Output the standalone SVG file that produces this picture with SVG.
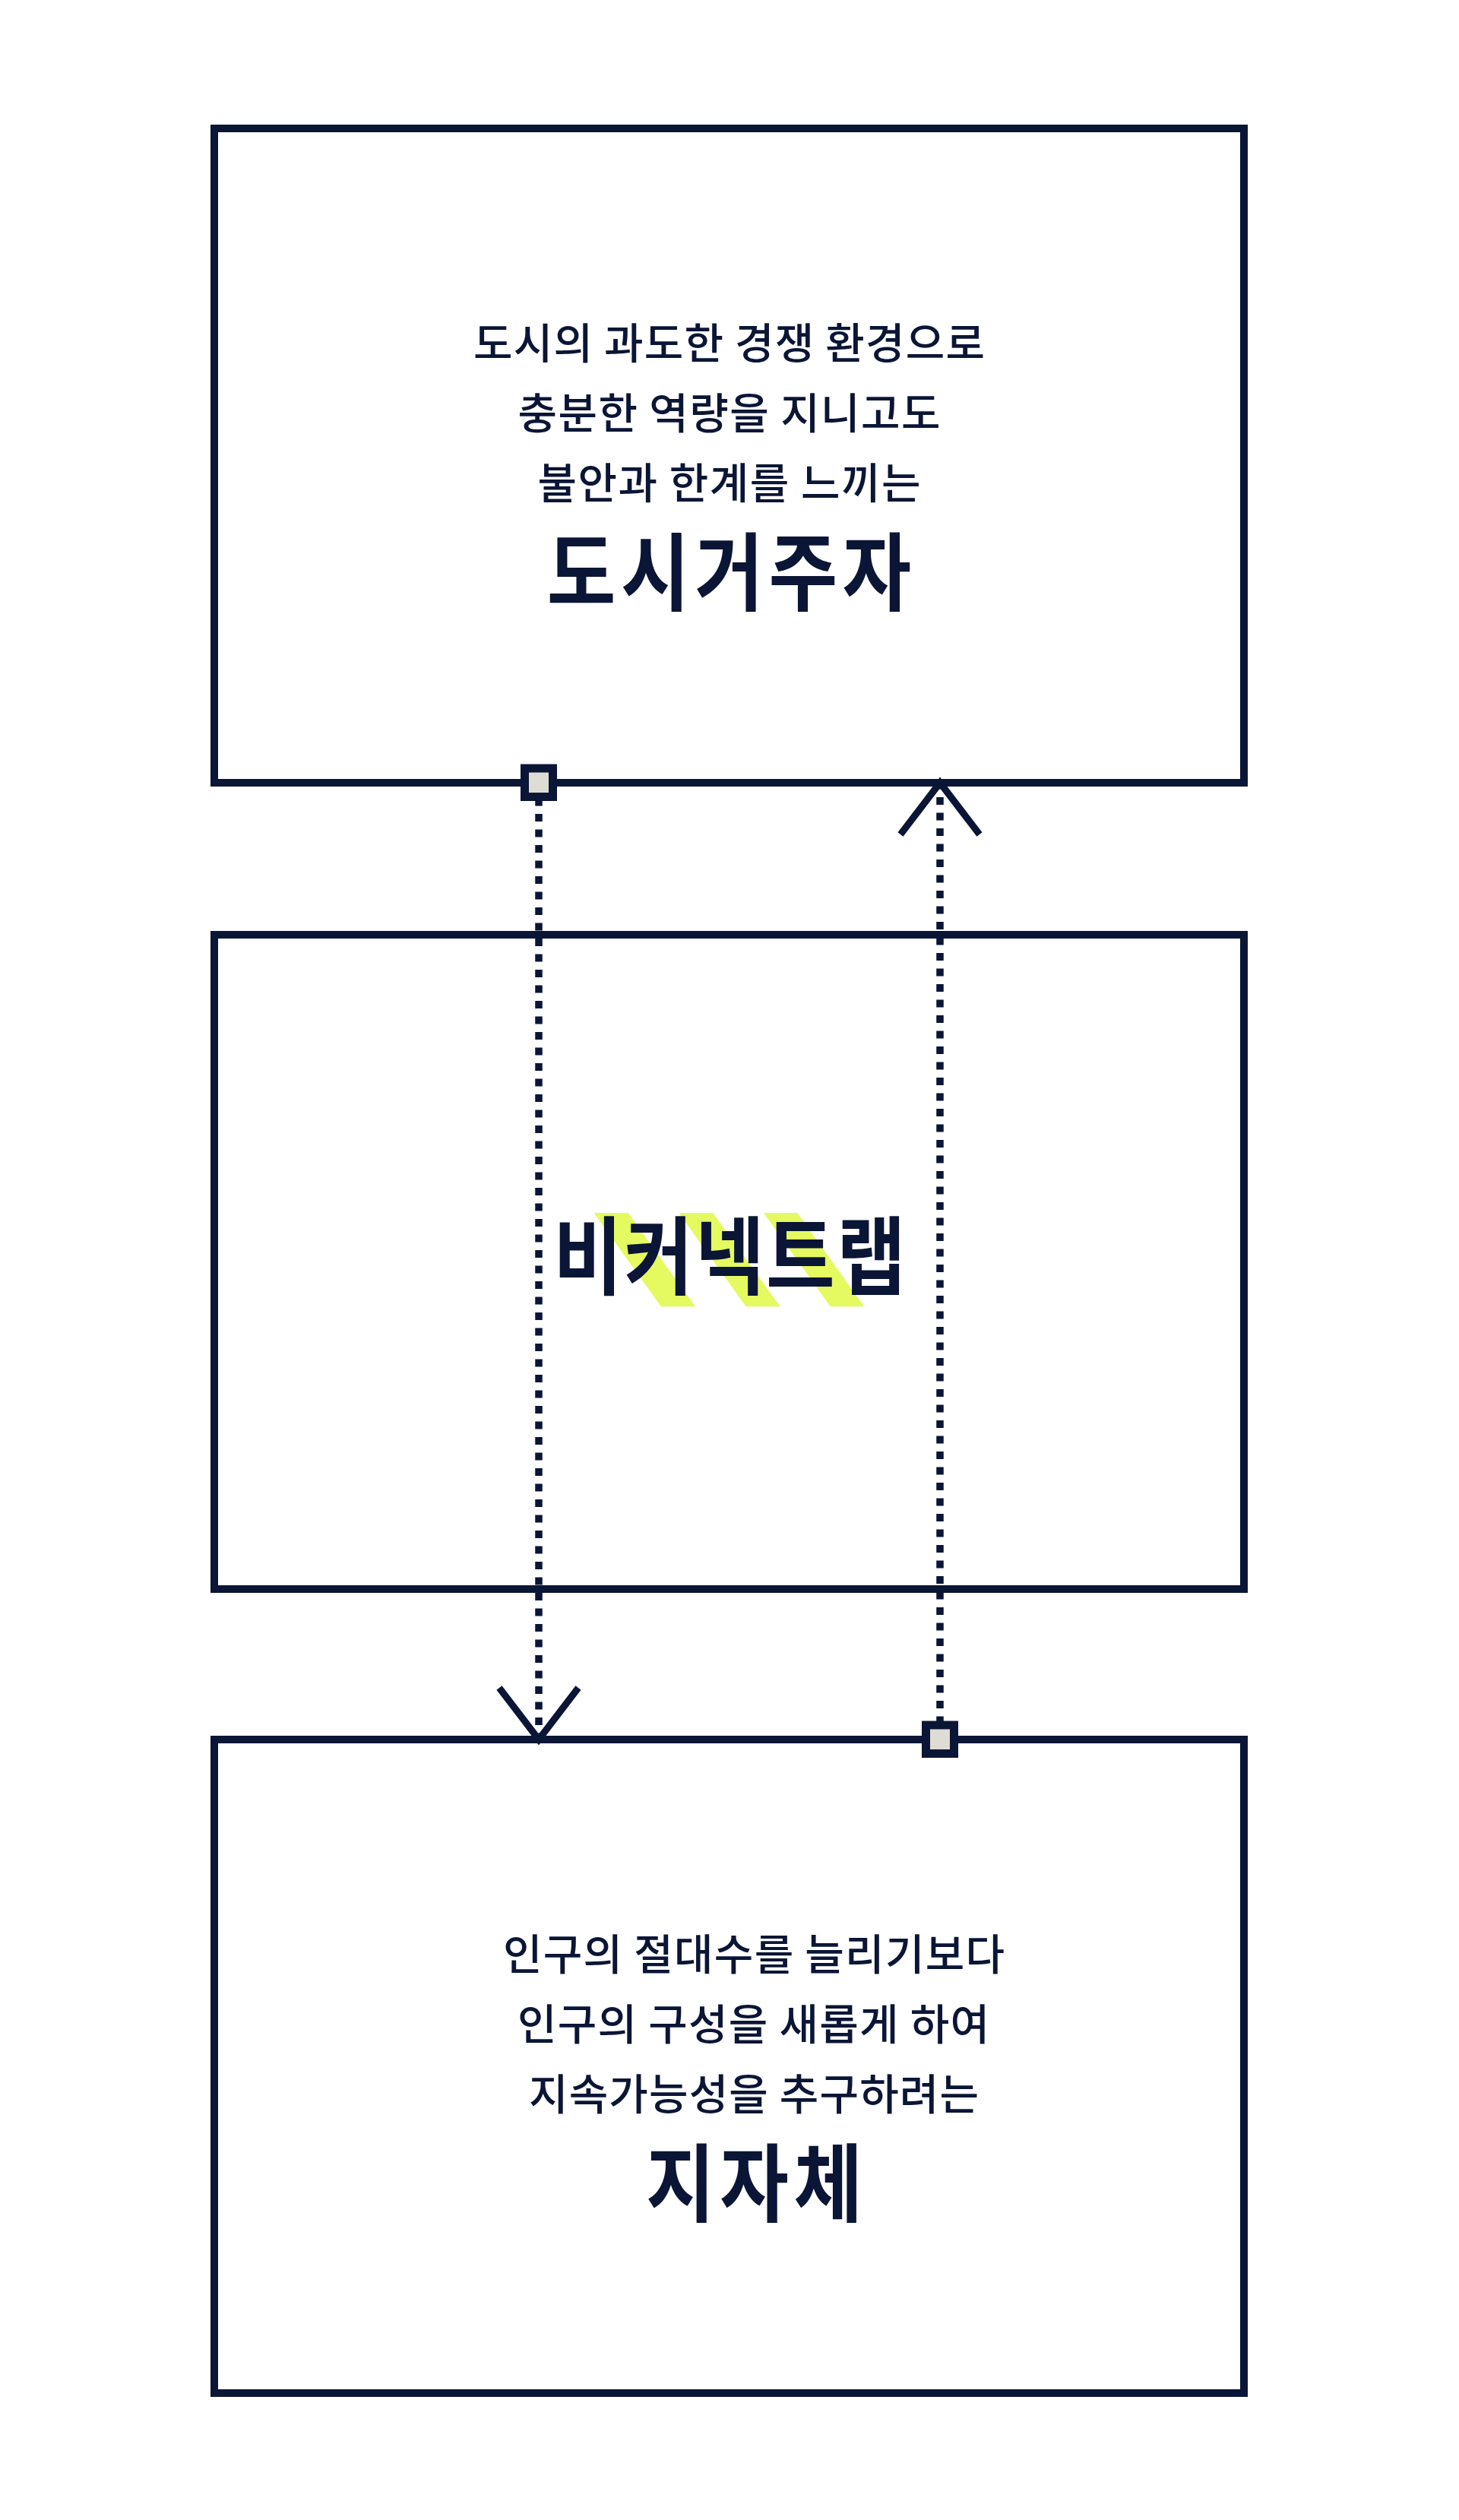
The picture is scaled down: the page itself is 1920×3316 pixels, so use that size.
<svg xmlns="http://www.w3.org/2000/svg" width="1920" height="3316" viewBox="0 0 1920 3316">
<style>
.box{fill:#FFFFFF;stroke:#0B1535;stroke-width:10}
.t{font-family:'Noto Sans CJK KR','Noto Sans',sans-serif;fill:#0B1535;text-anchor:middle}
.sub{font-size:56px;font-weight:500}
.ttl{font-size:112px;font-weight:700}
.stripe{fill:#E4FA60}
.conn{fill:none;stroke:#0B1535;stroke-width:9.5;stroke-dasharray:10 10.5}
</style>
<defs>
<marker id="arrow" markerUnits="userSpaceOnUse" viewBox="-80 -60 100 120" markerWidth="100" markerHeight="120" refX="0" refY="0" orient="auto" overflow="visible">
<path d="M-68,-52 L0,0 L-68,52" fill="none" stroke="#0B1535" stroke-width="9"/>
</marker>
<marker id="sq" markerUnits="userSpaceOnUse" viewBox="-30 -30 60 60" markerWidth="60" markerHeight="60" refX="0" refY="0" orient="0" overflow="visible">
<rect x="-18.5" y="-19" width="37" height="37.5" fill="#DEDDD4" stroke="#0B1535" stroke-width="11"/>
</marker>
</defs>
<rect width="1920" height="3316" fill="#FFFFFF"/>
<g id="node-urban-resident">
<rect class="box" x="282" y="169" width="1355" height="861"/>
<text class="t sub" x="959.5" y="472" textLength="673" lengthAdjust="spacing">도시의 과도한 경쟁 환경으로</text>
<text class="t sub" x="959.5" y="564" textLength="556" lengthAdjust="spacing">충분한 역량을 지니고도</text>
<text class="t sub" x="959.5" y="656" textLength="504" lengthAdjust="spacing">불안과 한계를 느끼는</text>
<text class="t ttl" transform="translate(959.5,795) scale(0.88,1)" x="0" y="0" textLength="545" lengthAdjust="spacing">도시거주자</text>
</g>
<g id="node-beconnectlab">
<rect class="box" x="282" y="1230" width="1355" height="861"/>
<polygon class="stripe" points="781.7,1596 826.7,1596 915,1719.3 870,1719.3"/>
<polygon class="stripe" points="893.3,1596 938.3,1596 1026.7,1719.3 981.7,1719.3"/>
<polygon class="stripe" points="1005,1596 1049.3,1596 1137.3,1719.3 1092.7,1719.3"/>
<text class="t ttl" transform="translate(960,1695) scale(0.88,1)" x="0" y="0" textLength="527" lengthAdjust="spacing">비커넥트랩</text>
</g>
<g id="node-local-government">
<rect class="box" x="282" y="2289" width="1355" height="860"/>
<text class="t sub" x="992" y="2592" textLength="660" lengthAdjust="spacing">인구의 절대수를 늘리기보다</text>
<text class="t sub" x="991.5" y="2684" textLength="621" lengthAdjust="spacing">인구의 구성을 새롭게 하여</text>
<text class="t sub" x="992" y="2776" textLength="592" lengthAdjust="spacing">지속가능성을 추구하려는</text>
<text class="t ttl" transform="translate(992.5,2915) scale(0.88,1)" x="0" y="0" textLength="324" lengthAdjust="spacing">지자체</text>
</g>
<g id="connectors">
<path class="conn" d="M709,1030 L709,2289" marker-start="url(#sq)" marker-end="url(#arrow)"/>
<path class="conn" d="M1237,2289 L1237,1030" marker-start="url(#sq)" marker-end="url(#arrow)"/>
</g>
</svg>
